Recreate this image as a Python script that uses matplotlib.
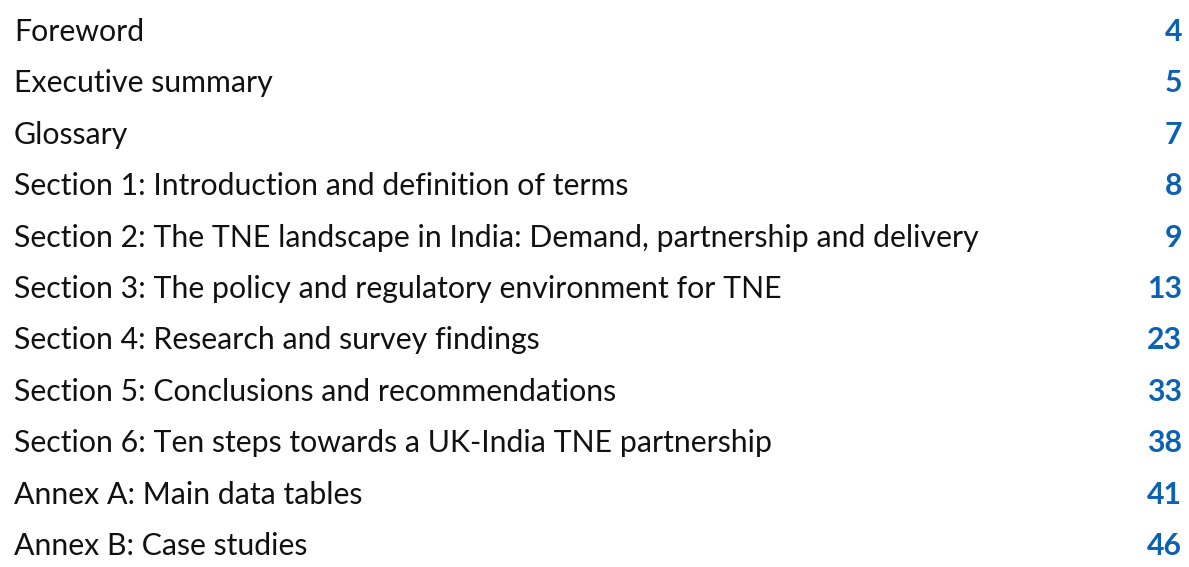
import matplotlib.pyplot as plt

titles = [
    "Foreword",
    "Executive summary",
    "Glossary",
    "Section 1: Introduction and definition of terms",
    "Section 2: The TNE landscape in India: Demand, partnership and delivery",
    "Section 3: The policy and regulatory environment for TNE",
    "Section 4: Research and survey findings",
    "Section 5: Conclusions and recommendations",
    "Section 6: Ten steps towards a UK-India TNE partnership",
    "Annex A: Main data tables",
    "Annex B: Case studies",
]
pages = [4, 5, 7, 8, 9, 13, 23, 33, 38, 41, 46]

fig = plt.figure(figsize=(11.89, 5.67), dpi=100)
ax = fig.add_axes([0, 0, 1, 1])
ax.set_xlim(0, 1189)
ax.set_ylim(567, 0)
ax.axis("off")

for i, (t, p) in enumerate(zip(titles, pages)):
    y = 41 + i * 51.4
    ax.text(14, y, t, fontsize=21.8, family="Lato", color="#111111",
            va="baseline", ha="left")
    ax.text(1182, y, str(p), fontsize=21.8, family="Lato", fontweight="bold",
            color="#0b62b5", va="baseline", ha="right")

fig.savefig("out.png", dpi=100)
